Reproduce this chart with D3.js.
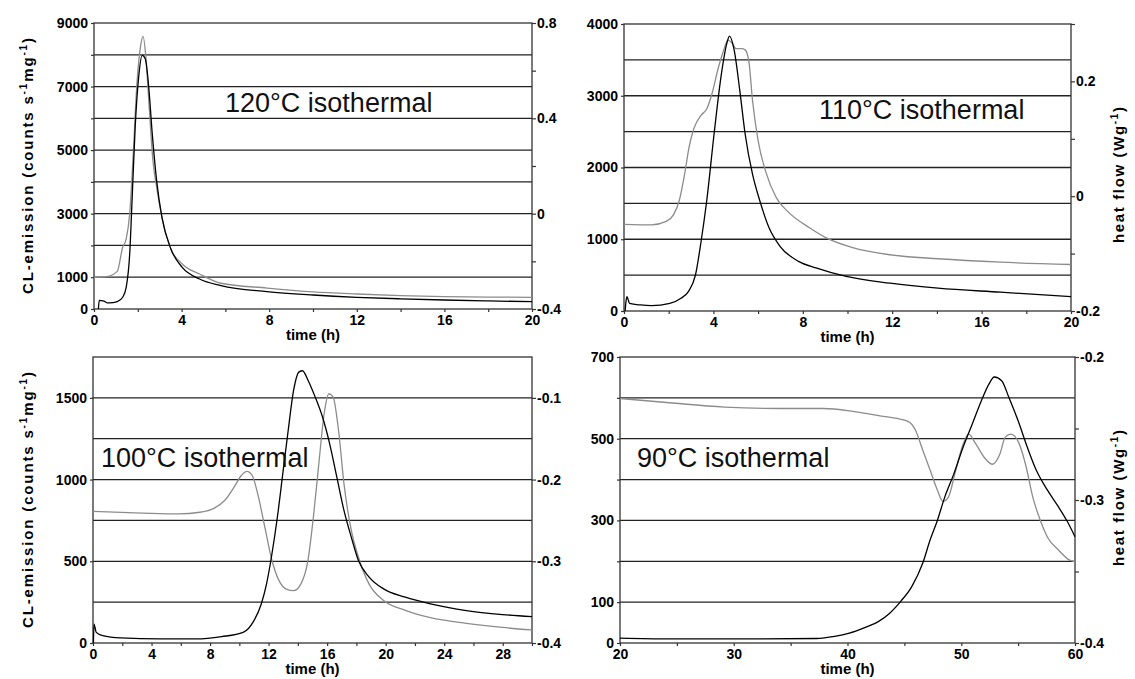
<!DOCTYPE html>
<html><head><meta charset="utf-8">
<script src="https://cdn.jsdelivr.net/npm/d3@7"></script>
<style>
body{margin:0;background:#fff;}
svg{display:block;font-family:"Liberation Sans",Arial,sans-serif;}
</style></head><body>
<svg id="c" width="1135" height="679"></svg>
<script>
// ---------- 120 °C isothermal ----------
const cl120Time = [0.2, 0.24, 0.45, 0.62, 0.85, 1.06, 1.31, 1.47, 1.63, 1.75, 1.88, 2.04, 2.2, 2.34, 2.5, 2.66, 2.86, 3.1, 3.51, 4.03, 4.82, 5.8, 7.9, 10, 12, 14, 16, 18, 20];
const cl120     = [0, 270, 250, 190, 200, 230, 370, 680, 1730, 3620, 5720, 7300, 7980, 7875, 6980, 5510, 4040, 2890, 1890, 1310, 945, 735, 546, 440, 368, 320, 283, 255, 231];
const hf120Time = [0, 0.57, 1.06, 1.31, 1.47, 1.63, 1.8, 1.96, 2.12, 2.24, 2.37, 2.53, 2.69, 2.86, 3.1, 3.51, 4.03, 4.82, 5.8, 7.9, 10, 12, 14, 16, 18, 20];
const hf120     = [-0.267, -0.264, -0.242, -0.141, -0.106, -0.001, 0.265, 0.545, 0.699, 0.744, 0.657, 0.433, 0.223, 0.111, -0.015, -0.148, -0.211, -0.253, -0.292, -0.312, -0.328, -0.337, -0.344, -0.348, -0.350, -0.351];

// ---------- 110 °C isothermal ----------
const cl110Time = [0.05, 0.08, 0.13, 0.25, 0.74, 1.23, 2.05, 2.55, 2.88, 3.2, 3.45, 3.7, 4.03, 4.36, 4.6, 4.72, 4.93, 5.18, 5.42, 5.75, 6.08, 6.49, 6.98, 7.81, 8.63, 9.94, 11.9, 14.05, 16.85, 20];
const cl110     = [0, 107, 200, 107, 84, 75, 107, 178, 271, 505, 972, 1533, 2467, 3308, 3729, 3832, 3636, 3075, 2467, 1907, 1533, 1159, 902, 692, 598, 481, 388, 318, 262, 200];
const hf110Time = [0, 1.23, 1.89, 2.22, 2.47, 2.71, 2.91, 3.12, 3.45, 3.7, 3.94, 4.19, 4.44, 4.65, 4.85, 5.01, 5.26, 5.42, 5.59, 5.75, 6.0, 6.33, 6.82, 7.31, 8.3, 9.12, 10.27, 11.9, 14.05, 16.85, 20];
const hf110     = [-0.049, -0.050, -0.044, -0.032, -0.008, 0.038, 0.085, 0.117, 0.141, 0.152, 0.179, 0.219, 0.252, 0.272, 0.266, 0.257, 0.257, 0.255, 0.234, 0.167, 0.097, 0.044, -0.003, -0.026, -0.055, -0.074, -0.090, -0.102, -0.109, -0.115, -0.119];

// ---------- 100 °C isothermal ----------
const cl100Time = [0.03, 0.07, 0.22, 0.66, 1.9, 4.6, 7.06, 8.79, 10.26, 11.0, 11.5, 11.86, 12.23, 12.6, 12.97, 13.34, 13.71, 14.08, 14.32, 14.69, 15.18, 15.68, 16.17, 16.66, 17.15, 17.65, 18.14, 18.87, 19.86, 21.34, 23.06, 25.52, 27.98, 30];
const cl100     = [0, 116, 65, 45, 31, 25, 25, 39, 65, 137, 239, 362, 546, 770, 1036, 1302, 1547, 1659, 1666, 1608, 1506, 1384, 1220, 1016, 811, 648, 505, 403, 331, 280, 239, 198, 174, 161];
const hf100Time = [0, 3.37, 5.83, 7.31, 8.29, 9.03, 9.65, 10.14, 10.51, 10.88, 11.25, 11.74, 12.23, 12.72, 13.21, 13.71, 14.2, 14.69, 15.06, 15.43, 15.8, 16.12, 16.41, 16.78, 17.15, 17.65, 18.14, 18.87, 19.86, 21.34, 23.06, 25.52, 27.98, 30];
const hf100     = [-0.239, -0.241, -0.242, -0.240, -0.235, -0.225, -0.209, -0.195, -0.190, -0.195, -0.217, -0.258, -0.299, -0.324, -0.334, -0.336, -0.328, -0.299, -0.246, -0.181, -0.119, -0.095, -0.099, -0.140, -0.205, -0.262, -0.295, -0.328, -0.348, -0.360, -0.369, -0.376, -0.381, -0.384];

// ---------- 90 °C isothermal ----------
const cl90Time = [20, 24.35, 30.8, 37.26, 38.87, 40.16, 41.45, 42.74, 43.71, 44.68, 45.65, 46.61, 47.26, 47.9, 48.55, 49.35, 50.16, 50.97, 51.77, 52.42, 52.9, 53.55, 54.19, 55.0, 55.81, 56.61, 57.58, 58.55, 59.35, 60];
const cl90     = [12, 10, 10, 11, 16, 24, 37, 53, 73, 102, 138, 195, 252, 300, 357, 414, 479, 536, 593, 633, 651, 642, 601, 544, 479, 422, 374, 333, 296, 260];
const hf90Time = [20, 24.35, 29.19, 34.03, 37.9, 40.48, 42.74, 44.35, 45.32, 45.97, 46.61, 47.26, 47.9, 48.39, 48.87, 49.52, 50.16, 50.65, 51.29, 52.1, 52.74, 53.39, 53.87, 54.35, 55.0, 55.65, 56.29, 56.94, 57.58, 58.55, 59.52, 60];
const hf90     = [-0.229, -0.232, -0.235, -0.236, -0.236, -0.238, -0.241, -0.243, -0.245, -0.251, -0.265, -0.279, -0.293, -0.301, -0.298, -0.279, -0.261, -0.254, -0.261, -0.271, -0.275, -0.268, -0.256, -0.254, -0.259, -0.275, -0.298, -0.314, -0.326, -0.335, -0.342, -0.343];

// ---------- ticks / labels ----------
const xTicks20 = [0, 2, 4, 6, 8, 10, 12, 14, 16, 18, 20];
const xLabels20 = [0, 4, 8, 12, 16, 20];
const xTicks30 = [0, 2, 4, 6, 8, 10, 12, 14, 16, 18, 20, 22, 24, 26, 28, 30];
const xLabels30 = [0, 4, 8, 12, 16, 20, 24, 28];
const xTicks90 = [20, 25, 30, 35, 40, 45, 50, 55, 60];
const xLabels90 = [20, 30, 40, 50, 60];

const left120 = [0, 1000, 2000, 3000, 4000, 5000, 6000, 7000, 8000, 9000];
const leftLabels120 = [0, 1000, 3000, 5000, 7000, 9000];
const right120 = [-0.4, -0.2, 0, 0.2, 0.4, 0.6, 0.8];
const rightLabels120 = [-0.4, 0, 0.4, 0.8];

const grid110 = [500, 1000, 1500, 2000, 2500, 3000, 3500];
const left110 = [0, 1000, 2000, 3000, 4000];
const right110 = [-0.2, -0.1, 0, 0.1, 0.2, 0.3];
const rightLabels110 = [-0.2, 0, 0.2];

const grid100 = [250, 500, 750, 1000, 1250, 1500];
const left100 = [0, 500, 1000, 1500];
const right100 = [-0.4, -0.3, -0.2, -0.1];
const rightLabels100 = [-0.4, -0.3, -0.2, -0.1];

const grid90 = [100, 200, 300, 400, 500, 600];
const left90 = [0, 100, 200, 300, 400, 500, 600, 700];
const leftLabels90 = [0, 100, 300, 500, 700];
const right90 = [-0.4, -0.35, -0.3, -0.25, -0.2];
const rightLabels90 = [-0.4, -0.3, -0.2];

const panelLabels = ["120°C isothermal", "110°C isothermal", "100°C isothermal", "90°C isothermal"];

// ---------- layout ----------
const zip = (t, v) => t.map((d, i) => [d, v[i]]);
const panels = [
  {box:{l:94,r:532,t:23,b:309}, xd:[0,20], yld:[0,9000], yrd:[-0.4,0.8],
   xT:xTicks20, xL:xLabels20, grid:left120.slice(1,-1), lT:left120, lL:leftLabels120, rT:right120, rL:rightLabels120,
   cl:zip(cl120Time,cl120), hf:zip(hf120Time,hf120), label:panelLabels[0], lx:225, ly:112, leftTitle:true},
  {box:{l:624,r:1071,t:24,b:311}, xd:[0,20], yld:[0,4000], yrd:[-0.2,0.3],
   xT:xTicks20, xL:xLabels20, grid:grid110, lT:left110, lL:left110, rT:right110, rL:rightLabels110,
   cl:zip(cl110Time,cl110), hf:zip(hf110Time,hf110), label:panelLabels[1], lx:819, ly:119, rightTitle:true, rty:175},
  {box:{l:93,r:532,t:357,b:643}, xd:[0,30], yld:[0,1750], yrd:[-0.4,-0.05],
   xT:xTicks30, xL:xLabels30, grid:grid100, lT:left100, lL:left100, rT:right100, rL:rightLabels100,
   cl:zip(cl100Time,cl100), hf:zip(hf100Time,hf100), label:panelLabels[2], lx:101, ly:467, leftTitle:true},
  {box:{l:620,r:1075,t:357,b:643}, xd:[20,60], yld:[0,700], yrd:[-0.4,-0.2],
   xT:xTicks90, xL:xLabels90, grid:grid90, lT:left90, lL:leftLabels90, rT:right90, rL:rightLabels90,
   cl:zip(cl90Time,cl90), hf:zip(hf90Time,hf90), label:panelLabels[3], lx:637, ly:467, rightTitle:true, rty:498}
];

const svg = d3.select("#c");
const fmt = d => String(+(+d).toFixed(2));

function styleAxis(g){
  g.attr("font-family", null).attr("font-size", null);
  g.select(".domain").remove();
  g.selectAll(".tick line").attr("stroke", "#333").attr("stroke-width", 1.2);
  g.selectAll(".tick text").attr("fill", "#000").attr("font-size", 14).attr("font-weight", "bold");
}

panels.forEach(p => {
  const b = p.box;
  const x = d3.scaleLinear().domain(p.xd).range([b.l, b.r]);
  const yL = d3.scaleLinear().domain(p.yld).range([b.b, b.t]);
  const yR = d3.scaleLinear().domain(p.yrd).range([b.b, b.t]);
  const g = svg.append("g");

  g.append("g").selectAll("line").data(p.grid).join("line")
    .attr("x1", b.l).attr("x2", b.r)
    .attr("y1", d => yL(d)).attr("y2", d => yL(d))
    .attr("stroke", "#222").attr("stroke-width", 1.3);

  g.append("rect").attr("x", b.l).attr("y", b.t).attr("width", b.r - b.l).attr("height", b.b - b.t)
    .attr("fill", "none").attr("stroke", "#333").attr("stroke-width", 1.3);

  g.append("g").attr("transform", `translate(0,${b.b})`)
    .call(d3.axisBottom(x).tickValues(p.xT).tickSize(3).tickPadding(3)
      .tickFormat(d => p.xL.includes(d) ? fmt(d) : ""))
    .call(styleAxis);

  g.append("g").attr("transform", `translate(${b.l},0)`)
    .call(d3.axisLeft(yL).tickValues(p.lT).tickSize(3).tickPadding(3)
      .tickFormat(d => p.lL.includes(d) ? fmt(d) : ""))
    .call(styleAxis);

  g.append("g").attr("transform", `translate(${b.r},0)`)
    .call(d3.axisRight(yR).tickValues(p.rT).tickSize(4).tickPadding(1)
      .tickFormat(d => p.rL.some(v => Math.abs(v - d) < 1e-9) ? fmt(d) : ""))
    .call(styleAxis);

  // x-axis title
  g.append("text").attr("x", (b.l + b.r) / 2).attr("y", b.b + 31)
    .attr("text-anchor", "middle").attr("font-size", 15).attr("font-weight", "bold").text("time (h)");

  // series
  const lineL = d3.line().x(d => x(d[0])).y(d => yL(d[1])).curve(d3.curveMonotoneX);
  const lineR = d3.line().x(d => x(d[0])).y(d => yR(d[1])).curve(d3.curveMonotoneX);
  g.append("path").datum(p.hf).attr("d", lineR).attr("fill", "none").attr("stroke", "#8c8c8c").attr("stroke-width", 1.3);
  g.append("path").datum(p.cl).attr("d", lineL).attr("fill", "none").attr("stroke", "#000").attr("stroke-width", 1.3);

  // annotation
  g.append("text").attr("x", p.lx).attr("y", p.ly).attr("font-size", 27).attr("fill", "#111").text(p.label);

  if (p.leftTitle) {
    const t = g.append("text").attr("transform", `translate(33,${(b.t + b.b) / 2}) rotate(-90)`)
      .attr("text-anchor", "middle").attr("font-size", 15).attr("font-weight", "bold")
      .attr("textLength", 256).attr("lengthAdjust", "spacing");
    t.append("tspan").text("CL-emission (counts s");
    t.append("tspan").attr("dy", -6).attr("font-size", 10).text("-1");
    t.append("tspan").attr("dy", 6).text("mg");
    t.append("tspan").attr("dy", -6).attr("font-size", 10).text("-1");
    t.append("tspan").attr("dy", 6).text(")");
  }
  if (p.rightTitle) {
    const t = g.append("text").attr("transform", `translate(1124,${p.rty}) rotate(-90)`)
      .attr("text-anchor", "middle").attr("font-size", 15).attr("font-weight", "bold")
      .attr("textLength", 136).attr("lengthAdjust", "spacing");
    t.append("tspan").text("heat flow (Wg");
    t.append("tspan").attr("dy", -6).attr("font-size", 10).text("-1");
    t.append("tspan").attr("dy", 6).text(")");
  }
});
</script>
</body></html>
